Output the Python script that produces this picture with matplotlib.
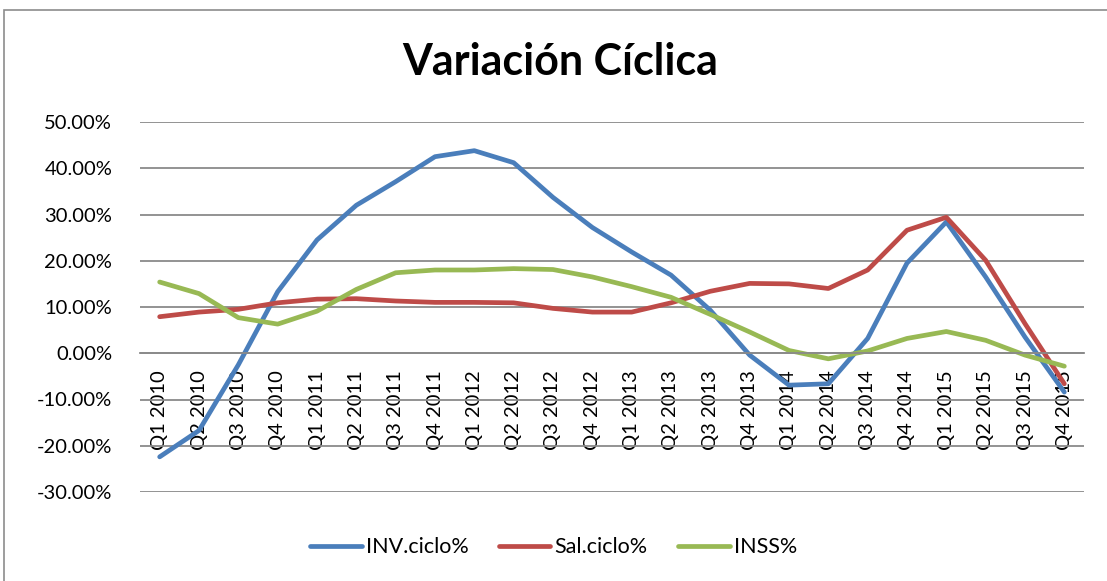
import matplotlib.pyplot as plt
import matplotlib.patches as mpatches
from matplotlib.ticker import FuncFormatter

quarters = [f"Q{q} {y}" for y in range(2010, 2016) for q in range(1, 5)]

inv_ciclo = [-22.4, -16.7, -2.5, 13.3, 24.5, 32.0, 37.1, 42.5, 43.8, 41.2, 33.7, 27.2,
             21.9, 16.9, 9.3, -0.4, -6.9, -6.6, 3.2, 19.5, 28.4, 16.5, 3.5, -8.4]
sal_ciclo = [7.9, 8.9, 9.5, 10.9, 11.7, 11.8, 11.3, 11.0, 11.0, 10.9, 9.7, 8.9,
             8.9, 10.9, 13.4, 15.1, 15.0, 14.0, 18.0, 26.6, 29.4, 20.1, 6.4, -6.6]
inss = [15.4, 12.9, 7.7, 6.3, 9.1, 13.8, 17.4, 18.0, 18.0, 18.3, 18.1, 16.5,
        14.4, 12.1, 8.4, 4.6, 0.6, -1.2, 0.5, 3.2, 4.7, 2.8, -0.4, -2.8]

series = [("INV.ciclo%", inv_ciclo, "#4A7EBB"),
          ("Sal.ciclo%", sal_ciclo, "#BE4B48"),
          ("INSS%", inss, "#98B954")]

plt.rcParams["font.family"] = ["Lato", "DejaVu Sans"]

fig = plt.figure(figsize=(11.07, 5.81), dpi=100)
fig.patches.append(mpatches.Rectangle((4 / 1107, -0.01), 1.02, (581 - 10) / 581 + 0.01,
                                      transform=fig.transFigure, fill=False,
                                      edgecolor="#8c8c8c", linewidth=1.2))
ax = fig.add_axes([140 / 1107, 89 / 581, 944 / 1107, 370 / 581])

x = list(range(len(quarters)))
for name, vals, col in series:
    ax.plot(x, vals, color=col, linewidth=3.4, label=name, solid_capstyle="round")

# category axis crosses at zero, like the Excel original
ax.spines["bottom"].set_position(("data", 0))
ax.spines["bottom"].set_color("#8a8a8a")
ax.spines["bottom"].set_linewidth(1.3)
for s in ["top", "right", "left"]:
    ax.spines[s].set_visible(False)

ax.set_ylim(-30, 50)
ax.set_xlim(-0.5, len(quarters) - 0.5)
ax.set_yticks(range(-30, 51, 10))
ax.yaxis.set_major_formatter(FuncFormatter(lambda v, p: f"{v:.2f}%"))
ax.grid(axis="y", color="#8a8a8a", linewidth=1.3)
ax.set_axisbelow(True)

ax.set_xticks(x)
ax.set_xticklabels(quarters, rotation=90, fontsize=14.5)
ax.tick_params(axis="x", length=0, pad=12)
ax.tick_params(axis="y", length=0, pad=20, labelsize=14.5)

fig.text(0.506, 0.893, "Variación Cíclica", ha="center", va="center",
         fontsize=31, fontweight="bold")

fig.legend(loc="center", bbox_to_anchor=(0.5, 0.058), ncol=3, frameon=False,
           fontsize=15.5, handlelength=2.4, columnspacing=1.4, handletextpad=0.2)

fig.savefig("out.png", dpi=100)
